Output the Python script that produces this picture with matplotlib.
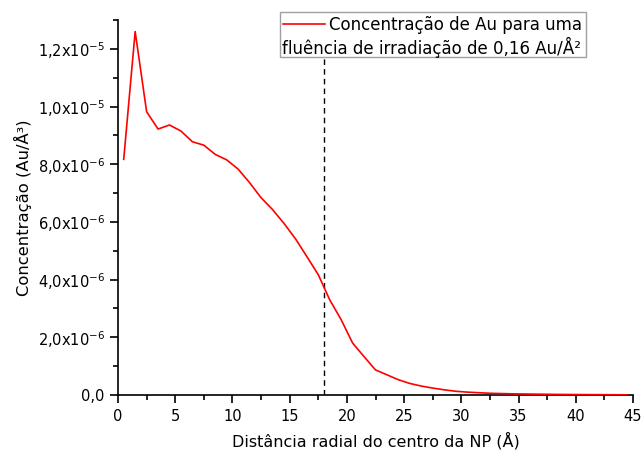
import numpy as np
import matplotlib
matplotlib.use("Agg")
import matplotlib.pyplot as plt
from matplotlib.ticker import MultipleLocator, FuncFormatter
from matplotlib.lines import Line2D
from matplotlib.patches import Rectangle

# Radial distance from the nanoparticle centre (Å) and Au concentration (Au/Å³)
distance = [0.5, 1.5, 2.5, 3.5, 4.5, 5.5, 6.5, 7.5, 8.5, 9.5,
            10.5, 11.5, 12.5, 13.5, 14.5, 15.5, 16.5, 17.5, 18.5, 19.5,
            20.5, 21.5, 22.5, 23.5, 24.5, 25.5, 26.5, 27.5, 28.5, 29.5,
            30.5, 31.5, 32.5, 33.5, 34.5, 35.5, 36.5, 37.5, 38.5, 39.5,
            40.5, 41.5, 42.5, 43.5, 44.5]
concentration_e6 = [8.17, 12.60, 9.82, 9.22, 9.36, 9.15, 8.78, 8.66, 8.34, 8.15,
                    7.83, 7.36, 6.84, 6.43, 5.95, 5.42, 4.80, 4.17, 3.30, 2.61,
                    1.80, 1.33, 0.87, 0.70, 0.53, 0.40, 0.31, 0.24, 0.18, 0.13,
                    0.10, 0.08, 0.06, 0.05, 0.04, 0.035, 0.03, 0.025, 0.02, 0.017,
                    0.015, 0.012, 0.01, 0.008, 0.006]
concentration = [v * 1e-6 for v in concentration_e6]

cutoff_radius = 18.0
legend_line1 = "Concentração de Au para uma"
legend_line2 = "fluência de irradiação de 0,16 Au/Å²"
x_label = "Distância radial do centro da NP (Å)"
y_label = "Concentração (Au/Å³)"

plt.rcParams['font.family'] = ['DejaVu Sans']

W, H = 642, 457
fig = plt.figure(figsize=(W / 100, H / 100), dpi=100)
ax = fig.add_axes([118 / W, 1 - 395 / H, (633 - 118) / W, (395 - 20) / H])

ax.plot(distance, concentration, color='#ff0000', lw=1.2, zorder=3)
ax.axvline(cutoff_radius, color='black', lw=1.0, ls=(0, (4, 3)), zorder=2)

ax.set_xlim(0, 45)
ax.set_ylim(0, 1.3e-5)

ax.xaxis.set_major_locator(MultipleLocator(5))
ax.xaxis.set_minor_locator(MultipleLocator(2.5))
ax.yaxis.set_major_locator(MultipleLocator(2e-6))
ax.yaxis.set_minor_locator(MultipleLocator(1e-6))


def sci_comma(v, pos):
    if abs(v) < 1e-12:
        return "0,0"
    exp = int(np.floor(np.log10(abs(v))))
    mant = v / 10 ** exp
    return ("%.1f" % mant).replace('.', ',') + "x10$^{%d}$" % exp


ax.yaxis.set_major_formatter(FuncFormatter(sci_comma))

for side in ('top', 'right'):
    ax.spines[side].set_visible(False)
for side in ('left', 'bottom'):
    ax.spines[side].set_linewidth(1.2)

ax.tick_params(which='major', direction='out', length=6, width=1.2, labelsize=10.5)
ax.tick_params(which='minor', direction='out', length=3.5, width=1.2)
ax.tick_params(axis='x', pad=4)

ax.set_xlabel(x_label, fontsize=11.5, labelpad=6)
ax.set_ylabel(y_label, fontsize=11.8, labelpad=4)

# Legend box with a wrapped two-line label (figure pixel coordinates)
px = lambda x, y: (x / W, 1 - y / H)
fig.patches.append(Rectangle(px(280, 57), (586 - 280) / W, (57 - 12) / H,
                             transform=fig.transFigure, fc='white', ec='#a0a0a0',
                             lw=1.0, zorder=5))
fig.lines.append(Line2D([283 / W, 325 / W], [1 - 23.5 / H, 1 - 23.5 / H],
                        transform=fig.transFigure, color='#ff0000', lw=1.2, zorder=6))
fig.text(*px(329, 25), legend_line1, ha='left', va='center', fontsize=12, zorder=6)
fig.text(*px(282, 47), legend_line2, ha='left', va='center', fontsize=12, zorder=6)

fig.savefig("out.png", dpi=100)
